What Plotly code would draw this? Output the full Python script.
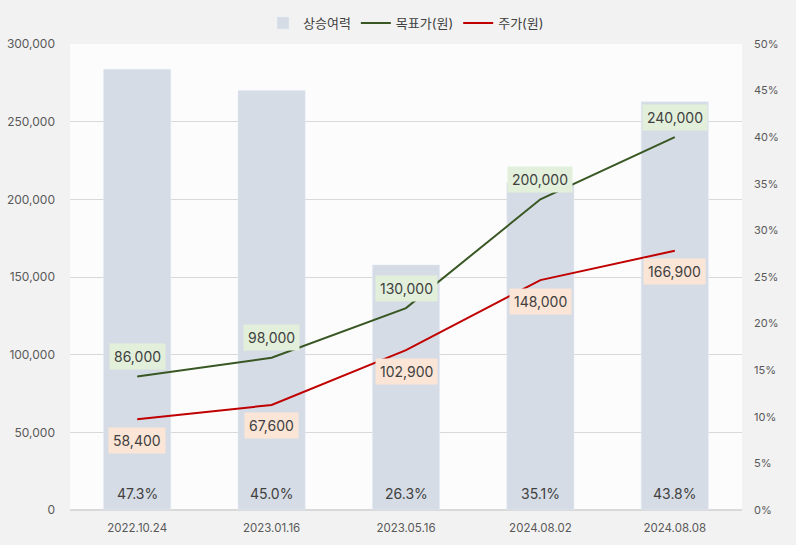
import plotly.graph_objects as go

dates = ["2022.10.24", "2023.01.16", "2023.05.16", "2024.08.02", "2024.08.08"]
upside = [0.473, 0.450, 0.263, 0.351, 0.438]
target = [86000, 98000, 130000, 200000, 240000]
price = [58400, 67600, 102900, 148000, 166900]

FONT = "Inter, 'Noto Sans CJK KR', sans-serif"
TXT = "#404040"
TICK = "#595959"

fig = go.Figure()
fig.add_trace(go.Bar(x=dates, y=upside, name="상승여력", marker_color="#d6dce5",
                     width=0.5, yaxis="y", hoverinfo="skip"))
fig.add_trace(go.Scatter(x=dates, y=target, name="목표가(원)", mode="lines", yaxis="y2",
                         line=dict(color="#385723", width=2)))
fig.add_trace(go.Scatter(x=dates, y=price, name="주가(원)", mode="lines", yaxis="y2",
                         line=dict(color="#c00000", width=2)))

ann = []
for d, u, t, p in zip(dates, upside, target, price):
    ann.append(dict(x=d, y=t, xref="x", yref="y2", text=f"{t:,}", showarrow=False,
                    yshift=20, bgcolor="#e2efda", borderpad=4,
                    font=dict(size=14, color=TXT, family=FONT)))
    ann.append(dict(x=d, y=p, xref="x", yref="y2", text=f"{p:,}", showarrow=False,
                    yshift=-21, bgcolor="#fbe5d6", borderpad=4,
                    font=dict(size=14, color=TXT, family=FONT)))
    ann.append(dict(x=d, y=0, xref="x", yref="y", text=f"{u*100:.1f}%", showarrow=False,
                    yanchor="bottom", yshift=6,
                    font=dict(size=14, color=TXT, family=FONT)))

fig.update_layout(
    width=796, height=545,
    paper_bgcolor="#f2f2f2", plot_bgcolor="#fcfcfc",
    margin=dict(l=70, r=54, t=44, b=35, autoexpand=False),
    font=dict(family=FONT, color=TXT, size=11),
    showlegend=True,
    legend=dict(orientation="h", x=0.5, xanchor="center", y=1.045, yanchor="middle",
                font=dict(size=13, color=TXT), bgcolor="rgba(0,0,0,0)",
                traceorder="normal"),
    xaxis=dict(showgrid=False, showline=False, ticks="outside", ticklen=7,
               tickcolor="rgba(0,0,0,0)", tickfont=dict(size=11.5, color=TICK)),
    yaxis=dict(range=[0, 0.5], dtick=0.05, tickformat=".0%", side="right",
               showgrid=False, zeroline=False, showline=False,
               tickfont=dict(size=11, color=TICK), ticklabelstandoff=11),
    yaxis2=dict(range=[0, 300000], dtick=50000, tickformat=",", overlaying="y", side="left",
                gridcolor="#d9d9d9", showgrid=True,
                zeroline=True, zerolinecolor="#d9d9d9", showline=False,
                tickfont=dict(size=12, color=TICK), ticklabelstandoff=14),
    annotations=ann,
)
fig.write_html("out.html", config={"displayModeBar": False},
               post_script="document.body.style.margin='0';")
